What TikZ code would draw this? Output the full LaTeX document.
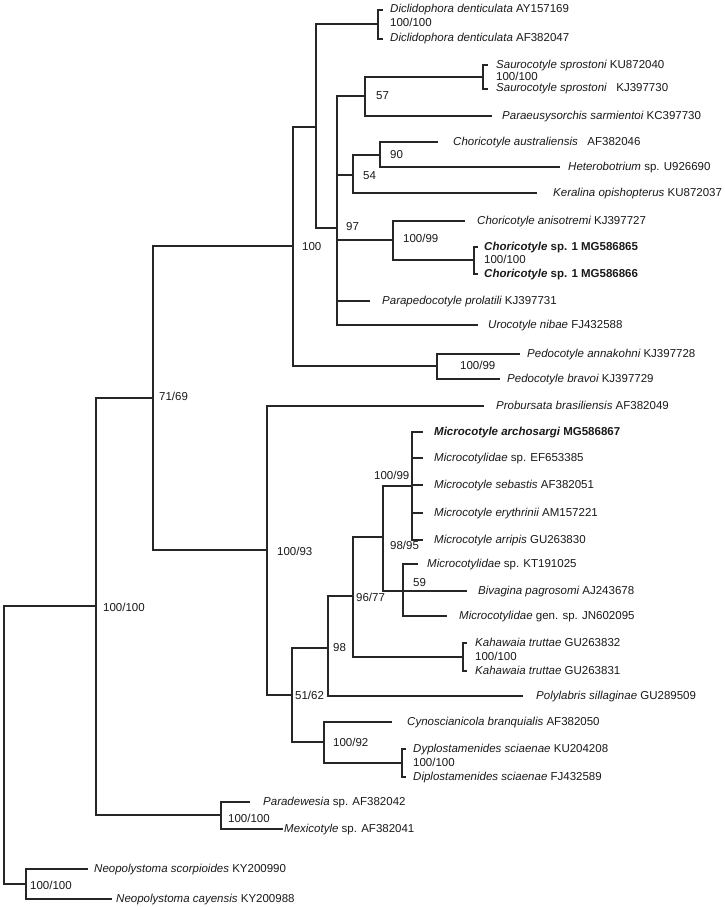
\documentclass[tikz,border=0pt]{standalone}
\usepackage{fontspec}
\setmainfont{Liberation Sans}
\begin{document}
\begin{tikzpicture}[x=1pt,y=-1pt,
  br/.style={line width=1.1pt,black!85},
  every node/.style={font=\fontsize{11.5}{13}\selectfont,inner sep=0pt,anchor=west,text height=8.5pt,text depth=2.5pt,text=black!90}]
\useasboundingbox (0,0) rectangle (725,907);
% internal nodes
\coordinate (root) at (4,746);
\coordinate (nIn) at (96,606);
\coordinate (nNeo) at (26,884);
\coordinate (n7169) at (153,398);
\coordinate (nPara) at (221,815);
\coordinate (nA) at (293,246);
\coordinate (n10093) at (267,550);
\coordinate (nB) at (316,127);
\coordinate (nPedo) at (437,366);
\coordinate (nDicl) at (378,24);
\coordinate (n97) at (337,228);
\coordinate (n57) at (365,96);
\coordinate (n54) at (353,175);
\coordinate (nChor) at (393,240);
\coordinate (nSaur) at (483,77);
\coordinate (n90) at (380,155);
\coordinate (nChsp) at (474,260);
\coordinate (n5162) at (292,695);
\coordinate (n98) at (328,648);
\coordinate (n10092) at (324,742);
\coordinate (n9677) at (353,596);
\coordinate (n9895) at (383,537);
\coordinate (nKaha) at (463,657);
\coordinate (nMicro) at (412,486);
\coordinate (n59) at (403,591);
\coordinate (nDyp) at (402,763);
% branch ends
\coordinate (eDicl1) at (383,10);
\coordinate (eDicl2) at (383,39);
\coordinate (eSaur1) at (488,65);
\coordinate (eSaur2) at (488,89);
\coordinate (ePara) at (492,116);
\coordinate (eAust) at (438,142);
\coordinate (eHete) at (560,167);
\coordinate (eKera) at (537,193);
\coordinate (eAnis) at (465,221);
\coordinate (eChsp1) at (478,247);
\coordinate (eChsp2) at (478,274);
\coordinate (ePrpd) at (370,301);
\coordinate (eUro) at (478,325);
\coordinate (ePedo1) at (520,354);
\coordinate (ePedo2) at (500,379);
\coordinate (eProb) at (484,406);
\coordinate (eMic1) at (423,432);
\coordinate (eMic2) at (423,458);
\coordinate (eMic3) at (423,485);
\coordinate (eMic4) at (423,513);
\coordinate (eMic5) at (423,540);
\coordinate (eKT) at (418,564);
\coordinate (eBiva) at (467,591);
\coordinate (eJN) at (447,616);
\coordinate (eKaha1) at (467,643);
\coordinate (eKaha2) at (467,671);
\coordinate (ePoly) at (523,696);
\coordinate (eCyno) at (392,722);
\coordinate (eDyp1) at (406,749);
\coordinate (eDyp2) at (406,777);
\coordinate (ePard) at (250,802);
\coordinate (eMexi) at (283,829);
\coordinate (eNeo1) at (88,869);
\coordinate (eNeo2) at (112,899);
\foreach \a/\b in {root/nIn,root/nNeo,nIn/n7169,nIn/nPara,n7169/nA,n7169/n10093,
  nA/nB,nA/nPedo,nB/nDicl,nB/n97,nDicl/eDicl1,nDicl/eDicl2,
  n97/n57,n97/n54,n97/nChor,n97/ePrpd,n97/eUro,n57/nSaur,n57/ePara,
  nSaur/eSaur1,nSaur/eSaur2,n54/n90,n54/eKera,n90/eAust,n90/eHete,
  nChor/eAnis,nChor/nChsp,nChsp/eChsp1,nChsp/eChsp2,nPedo/ePedo1,nPedo/ePedo2,
  n10093/eProb,n10093/n5162,n5162/n98,n5162/n10092,n98/n9677,n98/ePoly,
  n9677/n9895,n9677/nKaha,n9895/nMicro,n9895/n59,
  nMicro/eMic1,nMicro/eMic2,nMicro/eMic3,nMicro/eMic4,nMicro/eMic5,
  n59/eKT,n59/eBiva,n59/eJN,nKaha/eKaha1,nKaha/eKaha2,
  n10092/eCyno,n10092/nDyp,nDyp/eDyp1,nDyp/eDyp2,
  nPara/ePard,nPara/eMexi,nNeo/eNeo1,nNeo/eNeo2}
  \draw[br] (\a) |- (\b);
% taxa
\node (tDicl1) at (390,10) {\itshape Diclidophora denticulata \upshape AY157169};
\node (sDicl) at (390,24) {100/100};
\node (tDicl2) at (390,39) {\itshape Diclidophora denticulata \upshape AF382047};
\node (tSaur1) at (496,65) {\itshape Saurocotyle sprostoni \upshape KU872040};
\node (sSaur) at (496,77) {100/100};
\node (tSaur2) at (496,89) {\itshape Saurocotyle sprostoni \upshape\ \ KJ397730};
\node (s57) at (376,96) {57};
\node (tPara) at (502,116) {\itshape Paraeusysorchis sarmientoi \upshape KC397730};
\node (tAust) at (453,142) {\itshape Choricotyle australiensis \upshape\ \ AF382046};
\node (s90) at (390,155) {90};
\node (tHete) at (568,167) {\itshape Heterobotrium \upshape sp. U926690};
\node (s54) at (363,176) {54};
\node (tKera) at (553,193) {\itshape Keralina opishopterus \upshape KU872037};
\node (tAnis) at (477,221) {\itshape Choricotyle anisotremi \upshape KJ397727};
\node (s97) at (346,227) {97};
\node (sChor) at (403,239) {100/99};
\node (sA) at (302,247) {100};
\node (tChsp1) at (484,247) {\bfseries\itshape Choricotyle \upshape sp. 1 MG586865};
\node (sChsp) at (484,260) {100/100};
\node (tChsp2) at (484,274) {\bfseries\itshape Choricotyle \upshape sp. 1 MG586866};
\node (tPrpd) at (382,301) {\itshape Parapedocotyle prolatili \upshape KJ397731};
\node (tUro) at (488,325) {\itshape Urocotyle nibae \upshape FJ432588};
\node (tPedo1) at (527,354) {\itshape Pedocotyle annakohni \upshape KJ397728};
\node (sPedo) at (460,366) {100/99};
\node (tPedo2) at (507,379) {\itshape Pedocotyle bravoi \upshape KJ397729};
\node (s7169) at (159,397) {71/69};
\node (tProb) at (496,406) {\itshape Probursata brasiliensis \upshape AF382049};
\node (tMic1) at (434,432) {\bfseries\itshape Microcotyle archosargi \upshape MG586867};
\node (tMic2) at (434,458) {\itshape Microcotylidae \upshape sp. EF653385};
\node (sMicro) at (374,476) {100/99};
\node (tMic3) at (434,485) {\itshape Microcotyle sebastis \upshape AF382051};
\node (tMic4) at (434,513) {\itshape Microcotyle erythrinii \upshape AM157221};
\node (tMic5) at (434,540) {\itshape Microcotyle arripis \upshape GU263830};
\node (s9895) at (390,546) {98/95};
\node (s10093) at (277,552) {100/93};
\node (tKT) at (427,564) {\itshape Microcotylidae \upshape sp. KT191025};
\node (s59) at (413,583) {59};
\node (tBiva) at (478,591) {\itshape Bivagina pagrosomi \upshape AJ243678};
\node (s9677) at (356,598) {96/77};
\node (sIn) at (103,608) {100/100};
\node (tJN) at (459,616) {\itshape Microcotylidae \upshape gen. sp. JN602095};
\node (tKaha1) at (475,643) {\itshape Kahawaia truttae \upshape GU263832};
\node (s98) at (333,648) {98};
\node (sKaha) at (475,657) {100/100};
\node (tKaha2) at (475,671) {\itshape Kahawaia truttae \upshape GU263831};
\node (s5162) at (295,696) {51/62};
\node (tPoly) at (536,696) {\itshape Polylabris sillaginae \upshape GU289509};
\node (tCyno) at (407,722) {\itshape Cynoscianicola branquialis \upshape AF382050};
\node (s10092) at (333,743) {100/92};
\node (tDyp1) at (413,749) {\itshape Dyplostamenides sciaenae \upshape KU204208};
\node (sDyp) at (413,763) {100/100};
\node (tDyp2) at (413,777) {\itshape Diplostamenides sciaenae \upshape FJ432589};
\node (tPard) at (263,802) {\itshape Paradewesia \upshape sp. AF382042};
\node (sPara) at (228,819) {100/100};
\node (tMexi) at (284,829) {\itshape Mexicotyle \upshape sp. AF382041};
\node (tNeo1) at (94,869) {\itshape Neopolystoma scorpioides \upshape KY200990};
\node (sNeo) at (30,886) {100/100};
\node (tNeo2) at (116,899) {\itshape Neopolystoma cayensis \upshape KY200988};
\end{tikzpicture}
\end{document}
